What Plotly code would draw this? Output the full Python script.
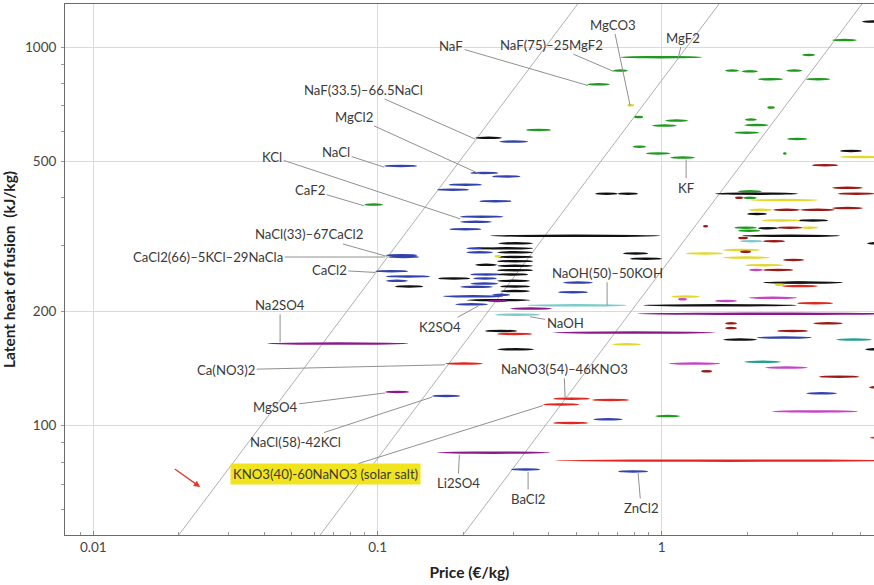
import numpy as np
import plotly.graph_objects as go

# Each salt: (price low €/kg, price high €/kg, latent heat of fusion kJ/kg)
green_salts = [
    (0.714, 1.386, 934), (0.674, 0.760, 861), (0.546, 0.658, 792),
    (0.333, 0.408, 600), (0.799, 0.860, 649), (0.924, 1.130, 616),
    (1.027, 1.237, 635), (0.790, 0.880, 542), (0.880, 1.070, 520),
    (1.070, 1.310, 507), (1.670, 1.870, 861), (1.910, 2.180, 857),
    (2.180, 2.670, 817), (2.740, 3.120, 861), (3.120, 3.460, 947),
    (3.220, 3.910, 817), (3.970, 4.860, 1037), (2.350, 2.500, 688),
    (1.960, 2.160, 639), (1.950, 2.380, 618), (1.800, 2.200, 590),
    (2.760, 3.250, 568), (2.670, 2.750, 520), (0.0897, 0.1046, 381),
    (1.850, 2.250, 413), (1.930, 2.160, 397), (1.800, 2.160, 331),
    (1.855, 2.220, 325), (0.947, 1.160, 105.2),
]

blue_salts = [
    (0.1055, 0.1378, 482), (0.107, 0.138, 280), (0.109, 0.140, 277),
    (0.0981, 0.1281, 254), (0.107, 0.153, 246), (0.107, 0.128, 239.5),
    (0.268, 0.339, 559), (0.212, 0.266, 462), (0.253, 0.318, 452),
    (0.178, 0.233, 430), (0.162, 0.210, 417), (0.228, 0.296, 389),
    (0.195, 0.277, 354), (0.195, 0.253, 343), (0.179, 0.232, 328),
    (0.205, 0.253, 292), (0.205, 0.255, 285), (0.212, 0.274, 249),
    (0.217, 0.263, 243), (0.212, 0.266, 235.6), (0.195, 0.255, 231),
    (0.170, 0.277, 218), (0.253, 0.293, 220), (0.1875, 0.245, 207.7),
    (0.449, 0.573, 237), (0.432, 0.550, 223.5), (0.1556, 0.1952, 118.9),
    (0.573, 0.730, 103.1), (0.2951, 0.3731, 76.0), (0.702, 0.895, 75.1),
    (2.670, 3.320, 237), (2.160, 3.370, 169.6), (3.220, 4.140, 120.8),
]

black_salts = [
    (0.2204, 0.2744, 572), (0.2489, 0.990, 315), (0.2656, 0.3526, 301),
    (0.2296, 0.3526, 292), (0.2634, 0.3526, 285), (0.2656, 0.3526, 277),
    (0.2634, 0.3526, 270), (0.2204, 0.2634, 264), (0.2634, 0.3526, 262.4),
    (0.2634, 0.3526, 255.6), (0.2656, 0.3386, 249), (0.1633, 0.2117, 243),
    (0.2634, 0.3441, 239.5), (0.2700, 0.3441, 231.5), (0.2700, 0.3441, 225),
    (0.1153, 0.1447, 231.5), (0.2065, 0.3440, 213), (0.2390, 0.3097, 176.6),
    (0.2634, 0.3554, 157.9), (0.583, 0.700, 407), (0.700, 0.825, 407),
    (1.540, 3.015, 407), (0.731, 0.895, 283), (0.774, 1.000, 274),
    (0.860, 2.990, 206.4), (2.270, 4.340, 237), (1.995, 2.346, 360),
    (3.015, 3.846, 346), (2.180, 2.560, 330), (1.917, 4.238, 315),
    (4.238, 5.064, 528), (5.064, 6.000, 1160), (1.643, 2.164, 167.5),
    (5.190, 6.200, 157.9), (5.270, 6.200, 301),
]

yellow_salts = [
    (0.755, 0.799, 697), (0.258, 0.272, 278), (0.6685, 0.8456, 162.8),
    (1.078, 1.364, 217.6), (4.238, 6.000, 509), (2.045, 3.547, 391.5),
    (2.012, 2.463, 369), (2.253, 3.065, 346), (3.065, 3.547, 331),
    (1.218, 1.643, 283), (1.643, 2.217, 289), (1.643, 2.400, 276),
    (1.963, 2.671, 263.5), (2.500, 2.710, 234),
]

darkred_salts = [
    (3.379, 4.170, 484), (3.972, 5.105, 422), (4.170, 5.600, 407),
    (3.972, 5.105, 373), (1.811, 1.932, 397), (2.463, 3.065, 369),
    (3.065, 4.069, 369), (1.397, 1.455, 334), (2.544, 3.115, 331),
    (1.855, 2.012, 311), (2.271, 2.714, 305), (1.886, 2.061, 286),
    (2.671, 3.166, 272), (2.271, 2.900, 256), (1.670, 1.840, 185),
    (1.670, 1.840, 179.7), (2.544, 3.270, 176.6), (3.406, 4.342, 185),
    (1.375, 1.503, 138.1), (3.576, 4.943, 133.7), (5.360, 6.000, 125.3),
]

red_salts = [
    (2.649, 3.547, 232), (2.991, 4.004, 209), (0.2634, 0.350, 173.4),
    (0.1729, 0.2352, 144.8), (0.4146, 0.5596, 116.9), (0.3824, 0.5118, 112.9),
    (0.5687, 0.7674, 116.0), (0.4146, 0.5506, 100.9), (0.4213, 7.000, 80.2),
    (5.400, 6.500, 92.2),
]

purple_salts = [
    (0.0409, 0.1285, 163.5), (0.1063, 0.1292, 121.8), (0.1621, 0.4046, 84.2),
    (0.2449, 0.2857, 212), (0.2927, 0.4112, 202.3), (0.4112, 1.552, 174.8),
    (0.8187, 7.000, 196),
]

magenta_salts = [
    (1.141, 1.227, 214), (1.540, 1.840, 212), (2.028, 2.991, 216),
    (2.028, 2.271, 256), (1.061, 1.604, 144.8), (2.308, 3.270, 141.3),
    (2.443, 4.902, 108.2),
]

cyan_salts = [
    (0.3359, 0.7550, 206.4), (0.2592, 0.3731, 195), (1.886, 2.271, 305),
]

teal_salts = [
    (4.103, 5.490, 167.5), (1.948, 2.628, 146.3),
]

# Storage cost of the latent heat, €/kWh
cost_levels = [1.4, 4.4, 14]

# Labels: text, label position (price, latent), leader tip (price, latent)
labels = [
    ("NaF", 0.1815, 1010, 0.550, 792),
    ("NaF(75)–25MgF2", 0.408, 1016, 0.680, 862),
    ("MgCO3", 0.674, 1148, 0.774, 701),
    ("MgF2", 1.188, 1061, 1.141, 933),
    ("NaF(33.5)–66.5NaCl", 0.089, 773, 0.2204, 572),
    ("MgCl2", 0.0823, 656, 0.2296, 462),
    ("NaCl", 0.0715, 530, 0.1055, 482),
    ("KCl", 0.0426, 514, 0.1952, 352),
    ("CaF2", 0.0579, 420, 0.0897, 381),
    ("NaCl(33)–67CaCl2", 0.0575, 320, 0.108, 280),
    ("CaCl2(66)–5KCl–29NaCla", 0.02538, 279, 0.1063, 279),
    ("CaCl2", 0.0676, 258, 0.0981, 254),
    ("Na2SO4", 0.0454, 208.6, 0.0454, 166),
    ("K2SO4", 0.166, 182.4, 0.2258, 207),
    ("Ca(NO3)2", 0.02934, 140.4, 0.1729, 144.8),
    ("MgSO4", 0.0436, 112.1, 0.1063, 122),
    ("NaCl(58)-42KCl", 0.0513, 90.5, 0.1556, 119),
    ("NaNO3(54)–46KNO3", 0.453, 141.3, 0.457, 118.4),
    ("NaOH(50)–50KOH", 0.642, 253.6, 0.642, 208),
    ("NaOH", 0.457, 186.9, 0.344, 194),
    ("Li2SO4", 0.192, 70.5, 0.194, 83.8),
    ("BaCl2", 0.3386, 64.0, 0.3386, 75.5),
    ("ZnCl2", 0.8456, 60.6, 0.8254, 74.9),
    ("KF", 1.218, 425.4, 1.218, 505),
]
solar_salt_label = ("KNO3(40)-60NaNO3 (solar salt)", 0.0654, 74.5, 0.3824, 113)

groups = [
    (green_salts, "#1f9a1f"),
    (blue_salts, "#3343ad"),
    (black_salts, "#111111"),
    (yellow_salts, "#e3d82c"),
    (darkred_salts, "#991a16"),
    (red_salts, "#e0281e"),
    (purple_salts, "#8a1a8c"),
    (magenta_salts, "#c545c5"),
    (cyan_salts, "#7ccaca"),
    (teal_salts, "#23a08e"),
]

FONT = "Lato"
LABEL_SIZE = 13.2
X_RANGE = [np.log10(0.00795), np.log10(5.58)]
Y_RANGE = [np.log10(51.4), np.log10(1301)]

fig = go.Figure()

# Iso-cost lines: latent = 3600 * price / cost
xs = np.logspace(-2.3, 1.0, 60)
for c in cost_levels:
    fig.add_trace(go.Scatter(
        x=xs, y=3600 * xs / c, mode="lines",
        line=dict(color="#a6a6a6", width=0.9),
        hoverinfo="skip", showlegend=False,
    ))

# Each salt as a horizontal ellipse spanning its price range
for salts, color in groups:
    for lo, hi, lh in salts:
        fig.add_shape(
            type="circle", xref="x", yref="y",
            x0=lo, x1=hi, ysizemode="pixel", yanchor=lh, y0=-2.5, y1=2.5,
            fillcolor=color, line=dict(width=0), layer="above",
        )

for text, tx, ty, px, py in labels:
    fig.add_annotation(
        x=np.log10(px), y=np.log10(py), ax=np.log10(tx), ay=np.log10(ty),
        xref="x", yref="y", axref="x", ayref="y", text=text,
        showarrow=True, arrowhead=0, arrowwidth=1, arrowcolor="#909090",
        standoff=0, font=dict(family=FONT, size=LABEL_SIZE, color="#3a3a3a"),
    )

text, tx, ty, px, py = solar_salt_label
fig.add_annotation(
    x=np.log10(px), y=np.log10(py), ax=np.log10(tx), ay=np.log10(ty),
    xref="x", yref="y", axref="x", ayref="y", text=text,
    showarrow=True, arrowhead=0, arrowwidth=1, arrowcolor="#909090",
    standoff=0, bgcolor="#f2e41c", borderpad=2,
    font=dict(family=FONT, size=LABEL_SIZE, color="#3a3a3a"),
)

# Red pointer towards the solar salt label
fig.add_annotation(
    x=np.log10(0.02378), y=np.log10(68.8), ax=np.log10(0.01912), ay=np.log10(77.3),
    xref="x", yref="y", axref="x", ayref="y", text="",
    showarrow=True, arrowhead=2, arrowsize=1, arrowwidth=1.3, arrowcolor="#e03a2a",
)

axis_common = dict(
    type="log", showgrid=True, gridcolor="#dadada", gridwidth=1,
    showline=True, linecolor="#6a6a6a", linewidth=1,
    tickfont=dict(family=FONT, size=13.5, color="#444444"),
    title_font=dict(family=FONT, size=15.5, color="#222222", weight="bold"),
    zeroline=False,
)

fig.update_xaxes(
    **axis_common, range=X_RANGE, mirror=True,
    tickvals=[0.01, 0.1, 1], ticktext=["0.01", "0.1", "1"],
    ticks="inside", ticklen=4, tickcolor="#888888",
    minor=dict(ticks="inside", ticklen=3, tickcolor="#999999", showgrid=False,
               tickvals=[0.009, 0.02, 0.03, 0.04, 0.05, 0.06, 0.07, 0.08, 0.09,
                         0.2, 0.3, 0.4, 0.5, 0.6, 0.7, 0.8, 0.9, 2, 3, 4, 5]),
    title=dict(text="Price (€/kg)", standoff=12),
)
fig.update_yaxes(
    **axis_common, range=Y_RANGE,
    tickvals=[100, 200, 500, 1000], ticktext=["100", "200", "500", "1000"],
    ticks="outside", ticklen=3, tickcolor="#999999", ticklabelstandoff=2,
    minor=dict(ticks="outside", ticklen=3, tickcolor="#999999", showgrid=False,
               tickvals=[60, 70, 80, 90, 300, 400, 600, 700, 800, 900]),
    title=dict(text="Latent heat of fusion  (kJ/kg)", standoff=8),
)

fig.update_layout(
    width=874, height=585,
    margin=dict(l=65, r=0, t=4, b=50),
    plot_bgcolor="white", paper_bgcolor="white",
    showlegend=False,
    font=dict(family=FONT),
)

fig.write_html("out.html")
